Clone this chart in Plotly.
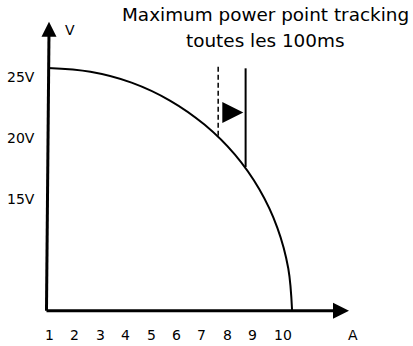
import plotly.graph_objects as go

# --- data (amps, volts) ---
curve_amps = [1.00, 2.67, 4.29, 5.80, 7.17, 8.36, 9.32, 10.03, 10.46, 10.61]
curve_volts = [25.74, 25.43, 24.54, 23.07, 21.08, 18.63, 15.79, 12.64, 9.30, 5.84]

x_tick_values = [1, 2, 3, 4, 5, 6, 7, 8, 9, 10]
x_tick_labels = ["1", "2", "3", "4", "5", "6", "7", "8", "9", "10"]
y_tick_values = [25, 20, 15]
y_tick_labels = ["25V", "20V", "15V"]

origin_amps = [0.94, 1.04]      # y-axis bottom / top (slightly tilted)
origin_volts = 5.84
y_axis_top = 29.53
x_axis_end = 12.85

mppt_old_amps = 7.70            # dashed
mppt_old_volts = [25.84, 20.16]
mppt_new_amps = 8.78            # solid
mppt_new_volts = [25.71, 17.62]
shift_arrow = (8.69, 22.09)

title_lines = ["Maximum power point tracking", "toutes les 100ms"]

FONT = "DejaVu Sans"
fig = go.Figure()

# axes drawn as lines
fig.add_trace(go.Scatter(x=[origin_amps[0], origin_amps[1]], y=[origin_volts, y_axis_top - 0.6],
                         mode="lines", line=dict(color="black", width=3), hoverinfo="skip"))
fig.add_trace(go.Scatter(x=[origin_amps[0], x_axis_end - 0.6], y=[origin_volts, origin_volts],
                         mode="lines", line=dict(color="black", width=3), hoverinfo="skip"))
# arrow heads
fig.add_trace(go.Scatter(x=[origin_amps[1]], y=[y_axis_top], mode="markers",
                         marker=dict(symbol="arrow-up", size=15, color="black", line=dict(width=0)),
                         hoverinfo="skip"))
fig.add_trace(go.Scatter(x=[x_axis_end], y=[origin_volts], mode="markers",
                         marker=dict(symbol="arrow-right", size=16, color="black", line=dict(width=0)),
                         hoverinfo="skip"))

# curve
fig.add_trace(go.Scatter(x=curve_amps, y=curve_volts, mode="lines",
                         line=dict(color="black", width=2, shape="spline", smoothing=1.0),
                         hoverinfo="skip"))

# MPPT lines
fig.add_trace(go.Scatter(x=[mppt_old_amps, mppt_old_amps], y=mppt_old_volts, mode="lines",
                         line=dict(color="black", width=1.5, dash="5px,3px"), hoverinfo="skip"))
fig.add_trace(go.Scatter(x=[mppt_new_amps, mppt_new_amps], y=mppt_new_volts, mode="lines",
                         line=dict(color="black", width=2), hoverinfo="skip"))
fig.add_trace(go.Scatter(x=[shift_arrow[0]], y=[shift_arrow[1]], mode="markers",
                         marker=dict(symbol="arrow-right", size=21, color="black", line=dict(width=0)),
                         hoverinfo="skip"))

annotations = []
for v, t in zip(x_tick_values, x_tick_labels):
    annotations.append(dict(x=v, y=3.85, text=t, xanchor="left", yanchor="middle", xshift=-4,
                            showarrow=False, borderpad=0, font=dict(family=FONT, size=14, color="black")))
for v, t in zip(y_tick_values, y_tick_labels):
    annotations.append(dict(x=-0.65, y=v, text=t, xanchor="left", yanchor="middle",
                            showarrow=False, borderpad=0, font=dict(family=FONT, size=14, color="black")))
annotations.append(dict(x=1.87, y=28.85, text="V", xanchor="center", yanchor="middle", showarrow=False,
                        borderpad=0, font=dict(family=FONT, size=14, color="black")))
annotations.append(dict(x=13.01, y=3.85, text="A", xanchor="center", yanchor="middle", showarrow=False,
                        borderpad=0, font=dict(family=FONT, size=14, color="black")))
annotations.append(dict(x=9.58, y=30.09, text=title_lines[0], xanchor="center", yanchor="middle",
                        showarrow=False, borderpad=0, font=dict(family=FONT, size=18.4, color="black")))
annotations.append(dict(x=9.58, y=27.96, text=title_lines[1], xanchor="center", yanchor="middle",
                        showarrow=False, borderpad=0, font=dict(family=FONT, size=18.4, color="black")))

fig.update_layout(
    width=413, height=346, autosize=False,
    margin=dict(l=0, r=0, t=0, b=0, pad=0),
    paper_bgcolor="white", plot_bgcolor="white",
    showlegend=False,
    xaxis=dict(range=[-0.8898, 15.370], visible=False, fixedrange=True),
    yaxis=dict(range=[2.951, 31.311], visible=False, fixedrange=True),
    annotations=annotations,
)

fig.write_html("out.html", config={"displayModeBar": False},
               post_script="document.body.style.margin='0px';document.body.style.overflow='hidden';")
